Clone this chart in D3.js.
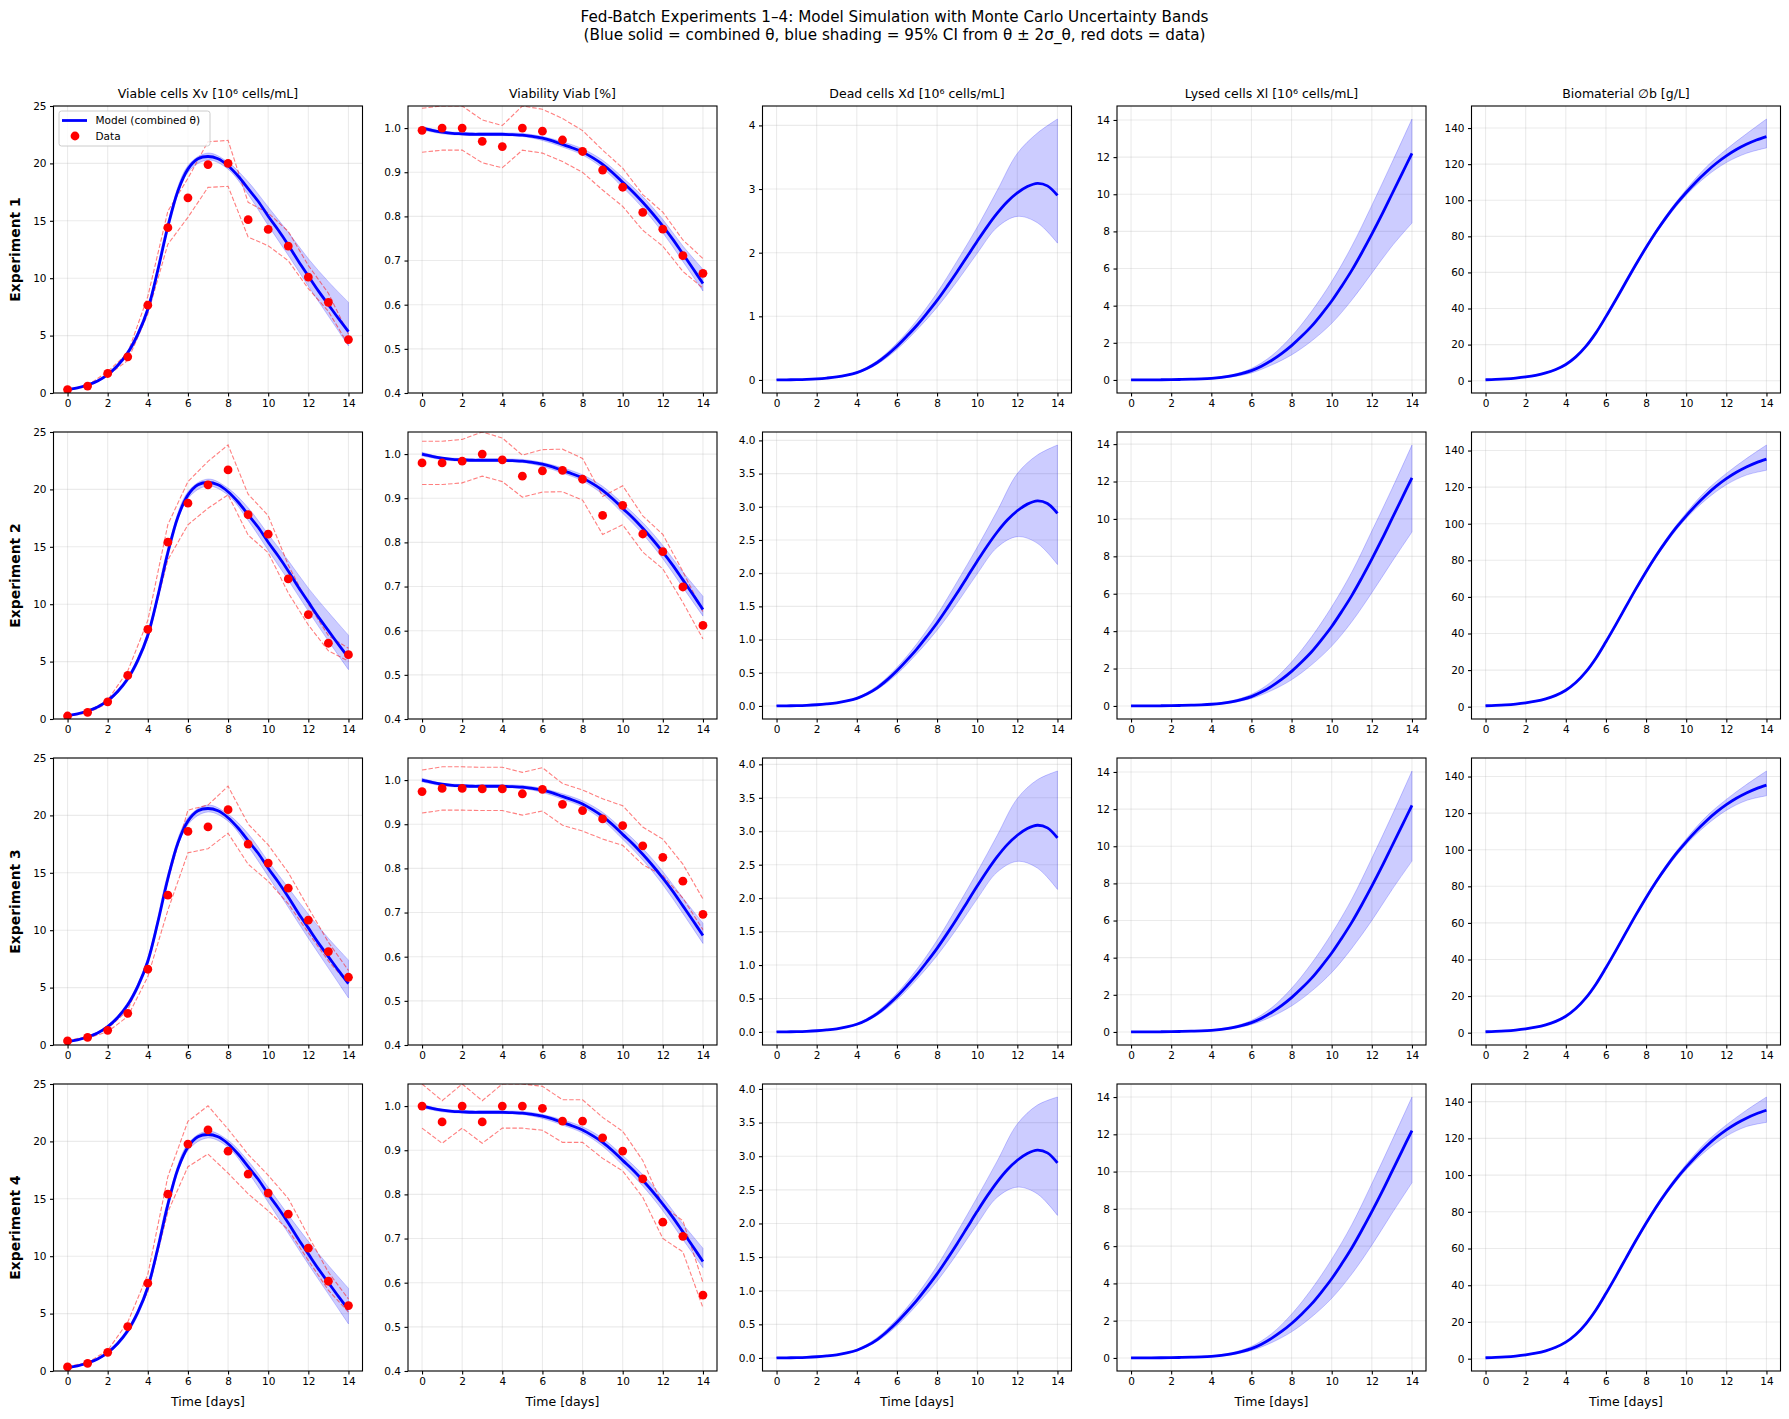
<!DOCTYPE html>
<html><head><meta charset="utf-8">
<script src="https://cdn.jsdelivr.net/npm/d3@7"></script>
<style>
body{margin:0;background:#fff;}
svg{font-family:"DejaVu Sans",sans-serif;}
</style>
</head><body>
<svg id="chart" width="1789" height="1419"></svg>
<script>
// ---------------- DATA ----------------
const experiments = ["Experiment 1","Experiment 2","Experiment 3","Experiment 4"];
const colTitles = ["Viable cells Xv [10⁶ cells/mL]","Viability Viab [%]","Dead cells Xd [10⁶ cells/mL]","Lysed cells Xl [10⁶ cells/mL]","Biomaterial ∅b [g/L]"];
const days = [0,1,2,3,4,5,6,7,8,9,10,11,12,13,14];
const modelT = [0,0.5,1,1.5,2,2.5,3,3.5,4,4.5,5,5.5,6,6.5,7,7.5,8,8.5,9,9.5,10,10.5,11,11.5,12,12.5,13,13.5,14];

// model (combined theta) – identical in all experiments
const modelXv = [0.3,0.45,0.7,1.05,1.6,2.4,3.5,5.1,7.3,10.7,14.5,17.6,19.5,20.4,20.6,20.4,19.8,18.9,17.8,16.7,15.4,14.2,12.9,11.5,10.2,8.9,7.7,6.5,5.35];
const modelViab = [1.0,0.995,0.991,0.988,0.987,0.986,0.986,0.986,0.986,0.985,0.984,0.981,0.977,0.971,0.963,0.955,0.946,0.933,0.918,0.899,0.877,0.856,0.832,0.806,0.778,0.748,0.715,0.682,0.648];
const modelXd = [0,0.002,0.005,0.01,0.018,0.03,0.047,0.075,0.115,0.18,0.27,0.39,0.53,0.69,0.86,1.05,1.25,1.47,1.7,1.94,2.18,2.41,2.62,2.8,2.94,3.04,3.09,3.05,2.9];
const modelXl = [0,0.002,0.005,0.01,0.017,0.027,0.04,0.06,0.09,0.14,0.22,0.34,0.5,0.74,1.05,1.42,1.85,2.35,2.9,3.55,4.25,5.05,5.9,6.85,7.85,8.9,10.0,11.1,12.2];
const modelBio = [0.5,0.7,1.0,1.45,2.1,3.0,4.3,6.2,9.0,13.2,19.0,26.5,35.5,45.0,54.8,64.5,73.8,82.5,90.5,97.8,104.3,110.3,115.7,120.5,124.6,128.1,131.0,133.4,135.3];

// 95% CI bands (per experiment, daily)
const bandXvLo = [
 [0.27,0.62,1.5,3.3,7.0,14.2,19.2,20.3,19.5,17.3,14.6,12.0,9.3,6.7,4.1],
 [0.27,0.62,1.5,3.3,7.0,14.2,19.2,20.3,19.5,17.3,14.7,12.1,9.4,6.8,4.3],
 [0.27,0.62,1.5,3.3,7.0,14.2,19.2,20.3,19.5,17.3,14.7,12.0,9.3,6.7,4.1],
 [0.27,0.62,1.5,3.3,7.0,14.2,19.2,20.3,19.5,17.3,14.7,12.0,9.3,6.7,4.1]];
const bandXvHi = [
 [0.34,0.74,1.72,3.72,7.6,14.9,19.8,20.9,20.1,18.4,16.2,14.0,11.7,9.7,7.9],
 [0.34,0.74,1.72,3.72,7.6,14.9,19.8,20.9,20.1,18.4,16.1,13.8,11.4,9.3,7.3],
 [0.34,0.74,1.72,3.72,7.6,14.9,19.8,20.9,20.1,18.4,16.0,13.7,11.4,9.3,7.4],
 [0.34,0.74,1.72,3.72,7.6,14.9,19.8,20.9,20.1,18.3,16.0,13.6,11.3,9.2,7.2]];
const bandViabLo = [
 [0.996,0.987,0.984,0.983,0.983,0.981,0.972,0.957,0.939,0.909,0.866,0.819,0.763,0.698,0.631],
 [0.996,0.987,0.984,0.983,0.983,0.981,0.972,0.957,0.939,0.909,0.866,0.819,0.763,0.698,0.633],
 [0.996,0.987,0.984,0.983,0.983,0.981,0.972,0.957,0.939,0.909,0.866,0.819,0.763,0.698,0.630],
 [0.996,0.987,0.984,0.983,0.983,0.981,0.972,0.957,0.939,0.909,0.866,0.819,0.763,0.698,0.634]];
const bandViabHi = [
 [1.004,0.993,0.990,0.989,0.989,0.988,0.981,0.969,0.953,0.927,0.888,0.845,0.793,0.733,0.680],
 [1.004,0.993,0.990,0.989,0.989,0.988,0.981,0.969,0.953,0.927,0.888,0.845,0.793,0.733,0.678],
 [1.004,0.993,0.990,0.989,0.989,0.988,0.981,0.969,0.953,0.927,0.888,0.845,0.793,0.733,0.676],
 [1.004,0.993,0.990,0.989,0.989,0.988,0.981,0.969,0.953,0.927,0.888,0.845,0.793,0.733,0.678]];
const bandXdLo = [
 [0,0.004,0.015,0.042,0.104,0.245,0.48,0.79,1.14,1.55,1.99,2.40,2.57,2.47,2.15],
 [0,0.004,0.015,0.042,0.104,0.245,0.48,0.79,1.14,1.55,1.99,2.39,2.55,2.45,2.13],
 [0,0.004,0.015,0.042,0.104,0.245,0.48,0.79,1.14,1.55,1.99,2.39,2.55,2.45,2.13],
 [0,0.004,0.015,0.042,0.104,0.245,0.48,0.79,1.14,1.55,1.99,2.39,2.54,2.44,2.12]];
const bandXdHi = [
 [0.008,0.008,0.022,0.053,0.127,0.30,0.58,0.94,1.37,1.87,2.40,2.98,3.56,3.88,4.10],
 [0.008,0.008,0.022,0.053,0.127,0.30,0.58,0.94,1.37,1.87,2.39,2.94,3.50,3.78,3.93],
 [0.008,0.008,0.022,0.053,0.127,0.30,0.58,0.94,1.37,1.87,2.39,2.94,3.49,3.77,3.90],
 [0.008,0.008,0.022,0.053,0.127,0.30,0.58,0.94,1.37,1.87,2.39,2.93,3.48,3.76,3.88]];
const bandXlLo = [
 [0,0.003,0.01,0.03,0.06,0.16,0.38,0.8,1.35,2.1,3.05,4.3,5.75,7.2,8.45],
 [0,0.003,0.01,0.03,0.06,0.17,0.40,0.82,1.40,2.2,3.2,4.5,6.05,7.7,9.3],
 [0,0.003,0.01,0.03,0.06,0.17,0.40,0.82,1.40,2.2,3.2,4.5,6.0,7.65,9.2],
 [0,0.003,0.01,0.03,0.06,0.17,0.40,0.82,1.40,2.2,3.2,4.5,6.05,7.75,9.4]];
const bandXlHi = [
 [0.01,0.01,0.03,0.06,0.12,0.28,0.62,1.3,2.35,3.7,5.3,7.2,9.4,11.7,14.05],
 [0.01,0.01,0.03,0.06,0.12,0.28,0.62,1.3,2.35,3.7,5.3,7.15,9.35,11.6,13.95],
 [0.01,0.01,0.03,0.06,0.12,0.28,0.62,1.3,2.35,3.7,5.3,7.15,9.35,11.65,14.05],
 [0.01,0.01,0.03,0.06,0.12,0.28,0.62,1.3,2.35,3.7,5.3,7.15,9.35,11.65,14.0]];
const bandBioLo = [
 [0.4,0.9,1.9,4.1,8.7,18.5,34.9,54.1,73.0,89.4,102.8,113.2,120.9,126.0,129.0],
 [0.4,0.9,1.9,4.1,8.7,18.5,34.9,54.1,73.0,89.4,102.9,113.3,121.3,126.6,129.2],
 [0.4,0.9,1.9,4.1,8.7,18.5,34.9,54.1,73.0,89.4,102.9,113.4,121.5,126.9,129.5],
 [0.4,0.9,1.9,4.1,8.7,18.5,34.9,54.1,73.0,89.4,102.9,113.3,121.2,126.4,128.7]];
const bandBioHi = [
 [0.6,1.1,2.3,4.5,9.3,19.5,36.1,55.5,74.6,91.7,106.0,118.4,128.2,136.8,145.0],
 [0.6,1.1,2.3,4.5,9.3,19.5,36.1,55.5,74.6,91.7,105.9,118.1,127.5,135.6,143.0],
 [0.6,1.1,2.3,4.5,9.3,19.5,36.1,55.5,74.6,91.7,105.9,118.1,127.5,135.6,143.0],
 [0.6,1.1,2.3,4.5,9.3,19.5,36.1,55.5,74.6,91.7,105.9,118.0,127.3,135.3,142.5]];

// measured data
const dataXv = [
 [0.3,0.6,1.7,3.15,7.65,14.4,17.0,19.9,20.0,15.1,14.25,12.8,10.1,7.9,4.65],
 [0.26,0.58,1.5,3.8,7.8,15.4,18.8,20.4,21.7,17.8,16.1,12.2,9.1,6.6,5.6],
 [0.35,0.67,1.28,2.76,6.6,13.05,18.6,19.0,20.5,17.5,15.85,13.66,10.87,8.14,5.9],
 [0.35,0.67,1.63,3.87,7.65,15.4,19.77,21.0,19.15,17.15,15.5,13.66,10.7,7.82,5.7]];
const dataViab = [
 [0.995,1.0,1.0,0.97,0.958,1.0,0.993,0.973,0.947,0.905,0.866,0.809,0.771,0.711,0.671],
 [0.98,0.98,0.984,1.0,0.987,0.95,0.962,0.963,0.943,0.861,0.884,0.819,0.779,0.699,0.612],
 [0.974,0.981,0.981,0.98,0.98,0.969,0.979,0.945,0.931,0.912,0.897,0.851,0.825,0.771,0.696],
 [1.0,0.964,1.0,0.964,1.0,1.0,0.995,0.966,0.966,0.928,0.898,0.835,0.737,0.705,0.572]];
const relErrXv = 0.10;   // dashed red: data ± 10 %
const relErrViab = 0.05; // dashed red: data ± 5 %

const xTicks = [0,2,4,6,8,10,12,14];
const yTicksXv = [0,5,10,15,20,25];
const yTicksViab = [0.4,0.5,0.6,0.7,0.8,0.9,1.0];
const yTicksXdRow1 = [0,1,2,3,4];
const yTicksXd = [0,0.5,1,1.5,2,2.5,3,3.5,4];
const yTicksXl = [0,2,4,6,8,10,12,14];
const yTicksBio = [0,20,40,60,80,100,120,140];

// ---------------- DRAW ----------------
const svg = d3.select("#chart");
const panelW = 309, panelH = 287;
const colX = [53.5, 408, 762.5, 1117, 1471.5];
const rowY = [106, 432, 758, 1084];

svg.append("text").attr("x",894.5).attr("y",22).attr("text-anchor","middle")
  .attr("font-size","15.2px").text("Fed-Batch Experiments 1–4: Model Simulation with Monte Carlo Uncertainty Bands");
svg.append("text").attr("x",894.5).attr("y",40).attr("text-anchor","middle")
  .attr("font-size","15.2px").text("(Blue solid = combined θ, blue shading = 95% CI from θ ± 2σ_θ, red dots = data)");

const models = [modelXv, modelViab, modelXd, modelXl, modelBio];
const bandsLo = [bandXvLo, bandViabLo, bandXdLo, bandXlLo, bandBioLo];
const bandsHi = [bandXvHi, bandViabHi, bandXdHi, bandXlHi, bandBioHi];

let clipId = 0;
for (let r = 0; r < 4; r++) {
  for (let c = 0; c < 5; c++) {
    const g = svg.append("g").attr("transform", `translate(${colX[c]},${rowY[r]})`);
    const x = d3.scaleLinear().domain([-0.7, 14.7]).range([0, panelW]);
    const model = models[c], lo = bandsLo[c][r], hi = bandsHi[c][r];
    let dom, ticks, fmt;
    if (c === 0) { dom = [0, 25]; ticks = yTicksXv; fmt = d3.format("d"); }
    else if (c === 1) { dom = [0.4, 1.05]; ticks = yTicksViab; fmt = d3.format(".1f"); }
    else {
      const mn = Math.min(d3.min(lo), d3.min(model));
      const mx = Math.max(d3.max(hi), d3.max(model));
      const pad = (mx - mn) * 0.05;
      dom = [mn - pad, mx + pad];
      if (c === 2) { ticks = r === 0 ? yTicksXdRow1 : yTicksXd; fmt = r === 0 ? d3.format("d") : d3.format(".1f"); }
      else if (c === 3) { ticks = yTicksXl; fmt = d3.format("d"); }
      else { ticks = yTicksBio; fmt = d3.format("d"); }
    }
    const y = d3.scaleLinear().domain(dom).range([panelH, 0]);

    const cid = "clip" + (clipId++);
    g.append("clipPath").attr("id", cid).append("rect").attr("width", panelW).attr("height", panelH);

    // grid
    const grid = g.append("g");
    grid.selectAll("line.gx").data(xTicks).join("line")
      .attr("x1", d => x(d)).attr("x2", d => x(d)).attr("y1", 0).attr("y2", panelH)
      .attr("stroke", "#b0b0b0").attr("stroke-opacity", 0.25).attr("stroke-width", 1.1);
    grid.selectAll("line.gy").data(ticks).join("line")
      .attr("x1", 0).attr("x2", panelW).attr("y1", d => y(d)).attr("y2", d => y(d))
      .attr("stroke", "#b0b0b0").attr("stroke-opacity", 0.25).attr("stroke-width", 1.1);

    const plot = g.append("g").attr("clip-path", `url(#${cid})`);

    // band
    const area = d3.area().x((d, i) => x(days[i])).y0((d, i) => y(lo[i])).y1((d, i) => y(hi[i]))
      .curve(d3.curveCatmullRom);
    plot.append("path").attr("d", area(days))
      .attr("fill", "rgba(0,0,255,0.2)").attr("stroke", "rgba(0,0,255,0.2)").attr("stroke-width", 1);

    // dashed error bounds
    if (c < 2) {
      const dat = c === 0 ? dataXv[r] : dataViab[r];
      const e = c === 0 ? relErrXv : relErrViab;
      const ln = d3.line().x((d, i) => x(days[i])).y(d => y(d));
      [1 + e, 1 - e].forEach(f => {
        plot.append("path").attr("d", ln(dat.map(v => v * f)))
          .attr("fill", "none").attr("stroke", "rgba(255,0,0,0.5)").attr("stroke-width", 1.1)
          .attr("stroke-dasharray", "4.5,2");
      });
    }

    // model line
    const mline = d3.line().x((d, i) => x(modelT[i])).y(d => y(d)).curve(d3.curveCatmullRom);
    plot.append("path").attr("d", mline(model)).attr("fill", "none")
      .attr("stroke", "#0000ff").attr("stroke-width", 2.8).attr("stroke-linejoin", "round");

    // data points
    if (c < 2) {
      const dat = c === 0 ? dataXv[r] : dataViab[r];
      plot.selectAll("circle").data(dat).join("circle")
        .attr("cx", (d, i) => x(days[i])).attr("cy", d => y(d)).attr("r", 4.4).attr("fill", "#ff0000");
    }

    // axes
    const ax = g.append("g").attr("transform", `translate(0,${panelH})`)
      .call(d3.axisBottom(x).tickValues(xTicks).tickSize(3.5).tickSizeOuter(0).tickPadding(3.5).tickFormat(d3.format("d")));
    const ay = g.append("g")
      .call(d3.axisLeft(y).tickValues(ticks).tickSize(3.5).tickSizeOuter(0).tickPadding(3.5).tickFormat(fmt));
    [ax, ay].forEach(a => {
      a.select(".domain").remove();
      a.selectAll("line").attr("stroke", "#000").attr("stroke-width", 1.1);
      a.selectAll("text").attr("font-size", "10.5px").attr("fill", "#000").attr("font-family", "DejaVu Sans");
    });

    // spines
    g.append("rect").attr("width", panelW).attr("height", panelH)
      .attr("fill", "none").attr("stroke", "#000").attr("stroke-width", 1.1);

    if (r === 0) {
      g.append("text").attr("x", panelW / 2).attr("y", -8).attr("text-anchor", "middle")
        .attr("font-size", "12.5px").text(colTitles[c]);
    }
    if (r === 3) {
      g.append("text").attr("x", panelW / 2).attr("y", panelH + 35).attr("text-anchor", "middle")
        .attr("font-size", "12.5px").text("Time [days]");
    }
    if (c === 0) {
      g.append("text").attr("transform", `translate(${-34},${panelH / 2}) rotate(-90)`)
        .attr("text-anchor", "middle").attr("font-size", "13.9px").attr("font-weight", "bold")
        .text(experiments[r]);
    }

    // legend
    if (r === 0 && c === 0) {
      const lg = g.append("g").attr("transform", "translate(5.5,5)");
      lg.append("rect").attr("width", 151).attr("height", 35).attr("rx", 2.5)
        .attr("fill", "rgba(255,255,255,0.8)").attr("stroke", "#cccccc").attr("stroke-width", 1);
      lg.append("line").attr("x1", 3).attr("x2", 28).attr("y1", 9.5).attr("y2", 9.5)
        .attr("stroke", "#0000ff").attr("stroke-width", 2.8);
      lg.append("text").attr("x", 36.5).attr("y", 13.3).attr("font-size", "10.5px").text("Model (combined θ)");
      lg.append("circle").attr("cx", 16).attr("cy", 25).attr("r", 4.4).attr("fill", "#ff0000");
      lg.append("text").attr("x", 36.5).attr("y", 29).attr("font-size", "10.5px").text("Data");
    }
  }
}
</script>
</body></html>
